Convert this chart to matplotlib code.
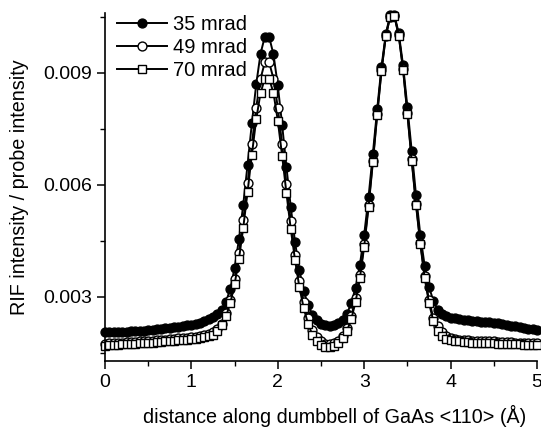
import matplotlib
matplotlib.use("Agg")
import matplotlib.pyplot as plt
from matplotlib.ticker import MultipleLocator

plt.rcParams['font.family'] = ['Liberation Sans', 'DejaVu Sans']

x = [0.00, 0.05, 0.10, 0.15, 0.20, 0.25, 0.30, 0.35, 0.40, 0.45,
     0.50, 0.55, 0.60, 0.65, 0.70, 0.75, 0.80, 0.85, 0.90, 0.95,
     1.00, 1.05, 1.10, 1.15, 1.20, 1.25, 1.30, 1.35, 1.40, 1.45,
     1.50, 1.55, 1.60, 1.65, 1.70, 1.75, 1.80, 1.85, 1.90, 1.95,
     2.00, 2.05, 2.10, 2.15, 2.20, 2.25, 2.30, 2.35, 2.40, 2.45,
     2.50, 2.55, 2.60, 2.65, 2.70, 2.75, 2.80, 2.85, 2.90, 2.95,
     3.00, 3.05, 3.10, 3.15, 3.20, 3.25, 3.30, 3.35, 3.40, 3.45,
     3.50, 3.55, 3.60, 3.65, 3.70, 3.75, 3.80, 3.85, 3.90, 3.95,
     4.00, 4.05, 4.10, 4.15, 4.20, 4.25, 4.30, 4.35, 4.40, 4.45,
     4.50, 4.55, 4.60, 4.65, 4.70, 4.75, 4.80, 4.85, 4.90, 4.95,
     5.00]

y_35 = [0.00205, 0.00205, 0.00206, 0.00206, 0.00207, 0.00207, 0.00208, 0.00209, 0.00210, 0.00210,
        0.00211, 0.00212, 0.00213, 0.00215, 0.00216, 0.00217, 0.00219, 0.00220, 0.00222, 0.00224,
        0.00226, 0.00228, 0.00231, 0.00235, 0.00240, 0.00246, 0.00254, 0.00266, 0.00287, 0.00322,
        0.00378, 0.00454, 0.00547, 0.00654, 0.00765, 0.00869, 0.00951, 0.00997, 0.00996, 0.00949,
        0.00866, 0.00761, 0.00648, 0.00541, 0.00446, 0.00372, 0.00317, 0.00278, 0.00253, 0.00237,
        0.00228, 0.00224, 0.00222, 0.00224, 0.00229, 0.00239, 0.00255, 0.00283, 0.00325, 0.00386,
        0.00467, 0.00567, 0.00683, 0.00802, 0.00916, 0.01004, 0.01054, 0.01054, 0.01006, 0.00920,
        0.00808, 0.00691, 0.00572, 0.00465, 0.00383, 0.00327, 0.00290, 0.00266, 0.00254, 0.00248,
        0.00245, 0.00243, 0.00241, 0.00239, 0.00238, 0.00236, 0.00235, 0.00234, 0.00233, 0.00232,
        0.00230, 0.00229, 0.00227, 0.00225, 0.00223, 0.00221, 0.00219, 0.00217, 0.00215, 0.00213,
        0.00212]

y_49 = [0.00175, 0.00176, 0.00177, 0.00177, 0.00178, 0.00179, 0.00180, 0.00180, 0.00181, 0.00182,
        0.00182, 0.00183, 0.00184, 0.00185, 0.00186, 0.00187, 0.00188, 0.00189, 0.00190, 0.00191,
        0.00192, 0.00193, 0.00195, 0.00197, 0.00200, 0.00205, 0.00213, 0.00228, 0.00256, 0.00293,
        0.00347, 0.00417, 0.00505, 0.00604, 0.00709, 0.00807, 0.00884, 0.00928, 0.00928, 0.00884,
        0.00807, 0.00709, 0.00603, 0.00502, 0.00413, 0.00342, 0.00287, 0.00243, 0.00212, 0.00192,
        0.00181, 0.00175, 0.00173, 0.00176, 0.00183, 0.00196, 0.00216, 0.00248, 0.00296, 0.00358,
        0.00442, 0.00546, 0.00665, 0.00790, 0.00907, 0.00999, 0.01050, 0.01051, 0.01000, 0.00910,
        0.00792, 0.00668, 0.00549, 0.00445, 0.00355, 0.00291, 0.00244, 0.00222, 0.00205, 0.00196,
        0.00190, 0.00187, 0.00186, 0.00185, 0.00184, 0.00183, 0.00183, 0.00182, 0.00182, 0.00181,
        0.00181, 0.00180, 0.00180, 0.00179, 0.00179, 0.00178, 0.00178, 0.00177, 0.00177, 0.00176,
        0.00176]

y_70 = [0.00170, 0.00171, 0.00172, 0.00172, 0.00173, 0.00174, 0.00175, 0.00175, 0.00176, 0.00177,
        0.00177, 0.00178, 0.00179, 0.00180, 0.00181, 0.00182, 0.00183, 0.00184, 0.00185, 0.00186,
        0.00187, 0.00188, 0.00190, 0.00192, 0.00195, 0.00199, 0.00209, 0.00224, 0.00248, 0.00283,
        0.00334, 0.00401, 0.00485, 0.00581, 0.00681, 0.00775, 0.00846, 0.00884, 0.00884, 0.00846,
        0.00772, 0.00678, 0.00578, 0.00482, 0.00398, 0.00326, 0.00270, 0.00228, 0.00199, 0.00182,
        0.00172, 0.00167, 0.00166, 0.00169, 0.00176, 0.00189, 0.00209, 0.00240, 0.00287, 0.00350,
        0.00435, 0.00540, 0.00660, 0.00786, 0.00905, 0.00998, 0.01050, 0.01051, 0.00999, 0.00908,
        0.00789, 0.00664, 0.00545, 0.00441, 0.00350, 0.00284, 0.00236, 0.00210, 0.00196, 0.00188,
        0.00184, 0.00182, 0.00181, 0.00180, 0.00179, 0.00178, 0.00178, 0.00177, 0.00177, 0.00176,
        0.00176, 0.00175, 0.00175, 0.00174, 0.00174, 0.00173, 0.00173, 0.00172, 0.00172, 0.00171,
        0.00171]

labels = ["35 mrad", "49 mrad", "70 mrad"]
y_ticks = [0.003, 0.006, 0.009]
y_tick_labels = ["0.003", "0.006", "0.009"]
x_ticks = [0, 1, 2, 3, 4, 5]

fig = plt.figure(figsize=(5.41, 4.34), dpi=100)
ax = fig.add_axes([105/541, 73/434, 432/541, 348/434])

lw = 1.4
common = dict(color='black', lw=lw, mec='black', mew=1.0, clip_on=False)
ax.plot(x, y_35, marker='o', ms=6.4, mfc='black', label=labels[0], **common)
ax.plot(x, y_49, marker='o', ms=6.4, mfc='white', label=labels[1], **common)
ax.plot(x, y_70, marker='s', ms=6.0, mfc='white', label=labels[2], **common)

ax.set_xlim(0, 5)
ax.set_ylim(0.001286, 0.0106)

ax.spines['top'].set_visible(False)
ax.spines['right'].set_visible(False)
ax.spines['left'].set_linewidth(1.2)
ax.spines['bottom'].set_linewidth(1.2)

ax.set_xticks(x_ticks)
ax.set_xticklabels([str(v) for v in x_ticks])
ax.xaxis.set_minor_locator(MultipleLocator(0.5))
ax.set_yticks(y_ticks)
ax.set_yticklabels(y_tick_labels)
ax.yaxis.set_minor_locator(MultipleLocator(0.0015))
ax.tick_params(which='major', direction='out', length=6, width=1.1, labelsize=14, pad=3.5)
ax.tick_params(which='minor', direction='out', length=3.5, width=1.0)

ax.set_xlabel("distance along dumbbell of GaAs <110> (Å)", fontsize=14.2)
ax.xaxis.set_label_coords(0.532, -0.125)
ax.set_ylabel("RIF intensity / probe intensity", fontsize=14.2)
ax.yaxis.set_label_coords(-0.175, 0.5)

leg = ax.legend(loc='upper left', bbox_to_anchor=(0.0, 1.03), frameon=False, fontsize=14.5,
                handlelength=2.5, handletextpad=0.3, labelspacing=0.2, borderaxespad=0.2)

fig.savefig("out.png", dpi=100)
